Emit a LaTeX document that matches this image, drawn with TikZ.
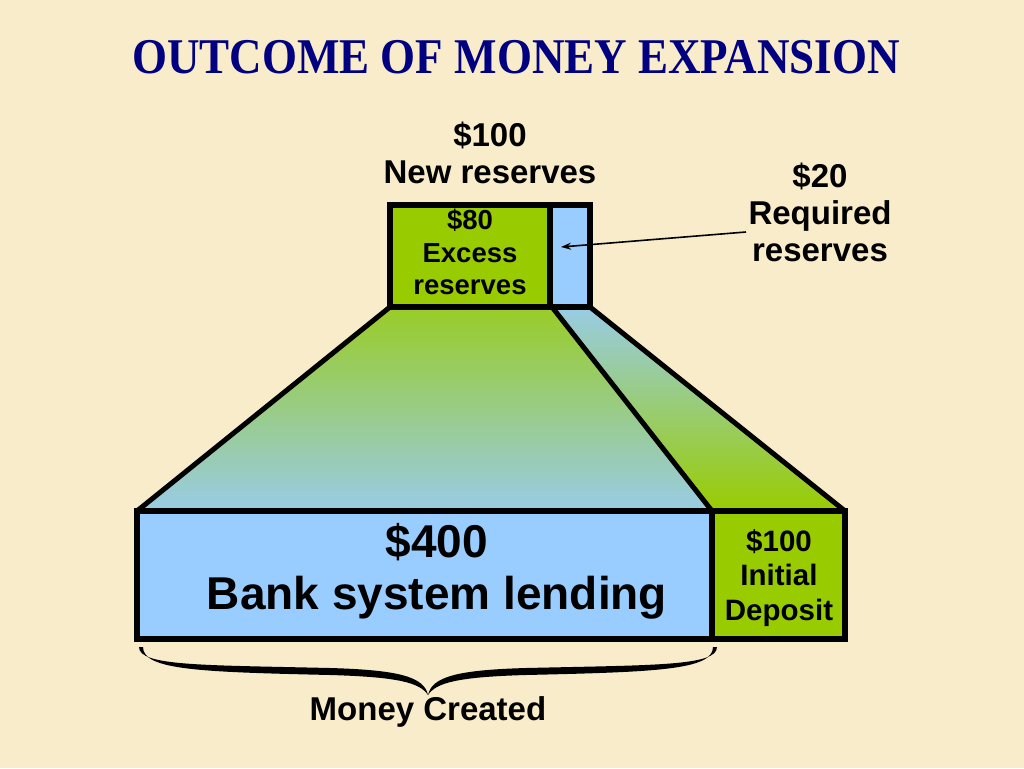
\documentclass[tikz,border=0pt]{standalone}
\usepackage{graphicx}
\usepackage{fontspec}
\setmainfont{Liberation Sans}
\newfontfamily\titlefont{Liberation Serif}
\usetikzlibrary{arrows.meta}
\definecolor{bg}{HTML}{F8ECCB}
\definecolor{navy}{HTML}{000080}
\definecolor{grn}{HTML}{99CC00}
\definecolor{blu}{HTML}{99CCFF}
\begin{document}
\begin{tikzpicture}[x=1pt,y=-1pt,
  lbl/.style={font=\bfseries\fontsize{33}{37}\selectfont, align=center, inner sep=0pt, text=black},
  boxg/.style={draw=black, fill=grn, line width=6pt, inner sep=0pt},
  boxb/.style={draw=black, fill=blu, line width=6pt, inner sep=0pt},
  edge/.style={draw=black, line width=5pt, line join=round}]
\fill[bg] (0,0) rectangle (1024,768);
\useasboundingbox (0,0) rectangle (1024,768);

% title
\node[font=\titlefont\bfseries\fontsize{50}{50}\selectfont, text=navy, inner sep=0pt] (title) at (516,57)
  {\scalebox{0.9}[1]{OUTCOME OF MONEY EXPANSION}};

% trapezoids
\shade[top color=grn!85!blu, bottom color=blu!90!grn] (390,307) -- (552,307) -- (712,511) -- (137,511) -- cycle;
\shade[top color=blu!90!grn, bottom color=grn] (552,307) -- (590,307) -- (845,511) -- (712,511) -- cycle;
\draw[edge] (390,307) -- (137,511);
\draw[edge] (552,307) -- (712,511);
\draw[edge] (590,307) -- (845,511);

% top boxes
\node[boxg, minimum width=160pt, minimum height=102pt] (excess) at (470,256) {};
\node[boxb, minimum width=40pt, minimum height=102pt] (req) at (570,256) {};
\node[lbl, font=\bfseries\fontsize{27.5}{32.5}\selectfont] (excesstxt) at (470,252) {\$80\\Excess\\reserves};

% bottom boxes
\node[boxb, minimum width=575pt, minimum height=128pt] (lend) at (424.5,575) {};
\node[boxg, minimum width=133pt, minimum height=128pt] (dep) at (778.5,575) {};
\node[lbl, font=\bfseries\fontsize{46}{52}\selectfont] (lendtxt) at (437,571) {\$400\\Bank system lending};
\node[lbl, font=\bfseries\fontsize{29.5}{34.5}\selectfont] (deptxt) at (779,578) {\$100\\Initial\\Deposit};

% labels
\node[lbl] (newres) at (490,153) {\$100\\New reserves};
\node[lbl] (reqtxt) at (820,212) {\$20\\Required\\reserves};
\node[lbl] (money) at (428,712) {Money Created};

% arrow
\coordinate (tail) at (746,232);
\coordinate (tip) at (561,247);
\draw[line width=1.6pt, -{Stealth[length=10pt,width=7pt]}] (tail) -- (tip);

% brace
\fill[black] (139,647) .. controls (139,666) and (200,665) .. (330,668)
  .. controls (400,670) and (424,677) .. (428,695)
  .. controls (432,677) and (456,670) .. (526,668)
  .. controls (656,665) and (717,666) .. (717,647)
  -- (713,647) .. controls (713,670) and (656,672) .. (526,675)
  .. controls (456,677) and (436,683) .. (428,695)
  .. controls (420,683) and (400,677) .. (330,675)
  .. controls (200,672) and (143,670) .. (143,647) -- cycle;
\end{tikzpicture}
\end{document}
